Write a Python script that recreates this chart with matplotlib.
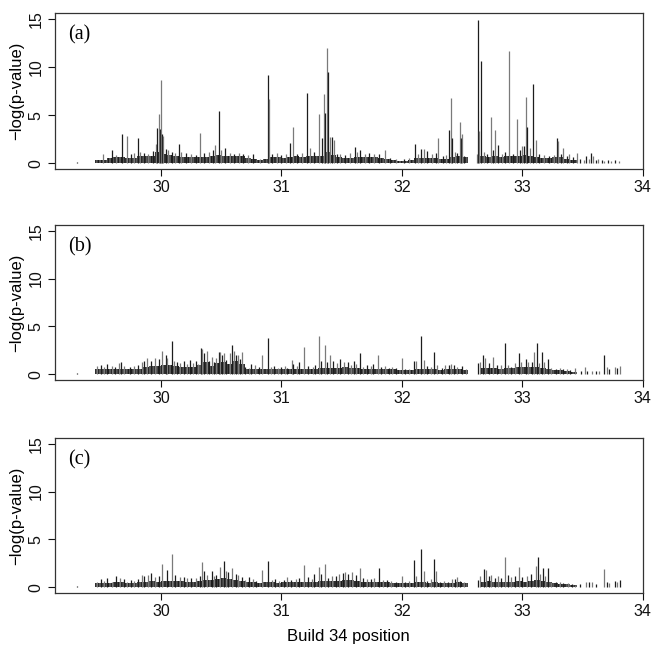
import matplotlib
matplotlib.use("Agg")
import matplotlib.pyplot as plt
import numpy as np

# positions in Mb (build 34), values are -log(p)
floor_edges = np.round(np.arange(29.45, 33.81, 0.05), 2)

floor_a = [0.3, 0.35, 0.5, 0.6, 0.6, 0.55, 0.55, 0.7, 0.8, 0.75,
           1.2, 1.0, 0.85, 0.75, 0.65, 0.6, 0.6, 0.6, 0.65, 0.8,
           0.9, 0.8, 0.75, 0.7, 0.7, 0.55, 0.45, 0.3, 0.4, 0.6,
           0.6, 0.55, 0.65, 0.7, 0.6, 0.7, 0.7, 0.8, 1.2, 0.9,
           0.6, 0.55, 0.55, 0.6, 0.65, 0.6, 0.65, 0.55, 0.4, 0.3,
           0.25, 0.2, 0.3, 0.5, 0.55, 0.55, 0.5, 0.45, 0.4, 0.65,
           0.7, 0.6, 0.0, 0.0, 0.7, 0.65, 0.7, 0.65, 0.7, 0.7,
           0.75, 0.9, 0.75, 0.6, 0.55, 0.5, 0.6, 0.6, 0.45, 0.3,
           0.0, 0.0, 0.0, 0.0, 0.0, 0.0, 0.0, 0.0]

floor_b = [0.5, 0.55, 0.55, 0.5, 0.6, 0.5, 0.5, 0.6, 0.75, 0.85,
           0.9, 1.0, 0.95, 0.85, 0.8, 0.8, 0.8, 1.0, 1.3, 0.9,
           1.2, 1.3, 1.1, 1.4, 1.1, 0.5, 0.5, 0.5, 0.55, 0.5,
           0.5, 0.5, 0.55, 0.6, 0.6, 0.5, 0.55, 0.7, 0.7, 0.65,
           0.7, 0.75, 0.7, 0.7, 0.6, 0.6, 0.6, 0.55, 0.5, 0.5,
           0.45, 0.45, 0.4, 0.55, 0.6, 0.5, 0.6, 0.45, 0.5, 0.55,
           0.55, 0.45, 0.0, 0.0, 0.7, 0.7, 0.65, 0.6, 0.65, 0.7,
           0.75, 0.8, 0.75, 0.8, 0.7, 0.55, 0.45, 0.4, 0.35, 0.2,
           0.0, 0.0, 0.0, 0.0, 0.0, 0.0, 0.0, 0.0]

floor_c = [0.4, 0.45, 0.45, 0.55, 0.55, 0.45, 0.45, 0.5, 0.6, 0.65,
           0.6, 0.7, 0.7, 0.7, 0.65, 0.6, 0.6, 0.7, 0.8, 0.75,
           0.85, 1.0, 0.9, 0.8, 0.7, 0.5, 0.5, 0.45, 0.5, 0.5,
           0.45, 0.5, 0.5, 0.55, 0.55, 0.6, 0.6, 0.65, 0.7, 0.65,
           0.7, 0.75, 0.75, 0.7, 0.6, 0.55, 0.55, 0.5, 0.5, 0.45,
           0.4, 0.4, 0.4, 0.5, 0.55, 0.45, 0.5, 0.4, 0.4, 0.45,
           0.5, 0.4, 0.0, 0.0, 0.6, 0.65, 0.6, 0.55, 0.6, 0.6,
           0.65, 0.6, 0.65, 0.75, 0.7, 0.5, 0.4, 0.35, 0.3, 0.2,
           0.0, 0.0, 0.0, 0.0, 0.0, 0.0, 0.0, 0.0]

snps_a = [(29.30, 0.15), (29.52, 1.0), (29.59, 1.4), (29.63, 0.9), (29.68, 3.0),
          (29.72, 2.8), (29.75, 1.0), (29.78, 1.1), (29.81, 2.6), (29.83, 1.2),
          (29.86, 1.1), (29.89, 1.0), (29.93, 1.3), (29.96, 2.0), (29.97, 3.7),
          (29.98, 5.1), (29.99, 3.6), (30.00, 8.6), (30.01, 3.0), (30.02, 2.8),
          (30.04, 1.5), (30.06, 1.4), (30.09, 1.2), (30.12, 1.1), (30.15, 2.0),
          (30.17, 1.2), (30.21, 1.1), (30.25, 1.0), (30.29, 0.9), (30.32, 3.1),
          (30.36, 1.1), (30.40, 1.2), (30.43, 1.4), (30.45, 1.85), (30.48, 5.4),
          (30.50, 1.4), (30.53, 1.6), (30.57, 1.1), (30.61, 1.0), (30.65, 1.1),
          (30.68, 1.0), (30.72, 0.9), (30.76, 1.0), (30.82, 0.4), (30.89, 9.2),
          (30.895, 6.65), (30.92, 1.0), (30.96, 1.1), (31.00, 0.9), (31.04, 1.0),
          (31.07, 2.1), (31.10, 3.75), (31.13, 1.0), (31.17, 1.1), (31.21, 7.3),
          (31.24, 1.6), (31.27, 1.2), (31.31, 5.1), (31.34, 2.6), (31.35, 7.2),
          (31.36, 5.2), (31.38, 12.0), (31.385, 9.45), (31.40, 2.7), (31.42, 2.7),
          (31.44, 2.4), (31.46, 1.0), (31.49, 1.0), (31.53, 0.9), (31.57, 1.1),
          (31.61, 1.7), (31.63, 1.2), (31.65, 1.4), (31.69, 1.0), (31.73, 1.1),
          (31.77, 1.0), (31.81, 1.0), (31.86, 1.35), (31.90, 0.5), (31.95, 0.4),
          (32.02, 0.4), (32.06, 0.5), (32.11, 2.0), (32.13, 1.0), (32.16, 1.5),
          (32.18, 1.5), (32.21, 1.3), (32.25, 1.0), (32.28, 1.1), (32.30, 2.65),
          (32.34, 0.7), (32.37, 0.9), (32.39, 3.5), (32.41, 6.8), (32.42, 2.6),
          (32.44, 1.2), (32.46, 1.1), (32.48, 4.3), (32.49, 2.6), (32.50, 3.0),
          (32.52, 0.8), (32.62, 1.0), (32.63, 14.9), (32.64, 3.3), (32.66, 10.65),
          (32.68, 1.2), (32.71, 1.0), (32.74, 4.85), (32.76, 1.4), (32.77, 3.5),
          (32.80, 1.9), (32.83, 1.0), (32.86, 1.2), (32.89, 11.7), (32.92, 1.0),
          (32.96, 4.6), (32.98, 1.4), (33.00, 1.8), (33.01, 1.8), (33.03, 6.85),
          (33.035, 3.75), (33.06, 1.6), (33.09, 8.2), (33.11, 2.4), (33.14, 1.0),
          (33.18, 0.9), (33.22, 0.8), (33.26, 0.9), (33.29, 2.6), (33.30, 2.3),
          (33.32, 1.0), (33.34, 1.55), (33.37, 0.8), (33.39, 1.0), (33.42, 0.6),
          (33.45, 1.1), (33.48, 0.4), (33.51, 0.3), (33.53, 0.7), (33.55, 0.4),
          (33.57, 1.1), (33.59, 0.7), (33.61, 0.3), (33.63, 0.4), (33.66, 0.3),
          (33.68, 0.25), (33.71, 0.3), (33.74, 0.25), (33.77, 0.3), (33.80, 0.25)]

snps_b = [(29.30, 0.15), (29.47, 0.9), (29.50, 1.0), (29.53, 0.8), (29.55, 1.05),
          (29.59, 0.9), (29.62, 0.8), (29.65, 1.2), (29.67, 1.25), (29.69, 0.9),
          (29.74, 0.8), (29.78, 0.9), (29.81, 1.0), (29.84, 1.3), (29.86, 1.35),
          (29.88, 1.75), (29.92, 1.4), (29.95, 1.7), (29.98, 1.6), (30.01, 2.45),
          (30.04, 2.0), (30.05, 1.75), (30.09, 3.5), (30.11, 1.4), (30.13, 1.3),
          (30.16, 1.2), (30.19, 1.4), (30.22, 1.1), (30.24, 1.5), (30.27, 1.2),
          (30.29, 1.4), (30.31, 1.1), (30.33, 2.7), (30.34, 2.65), (30.36, 2.2),
          (30.38, 2.45), (30.40, 1.4), (30.42, 1.85), (30.44, 1.3), (30.46, 1.75),
          (30.48, 2.3), (30.49, 2.3), (30.51, 2.0), (30.52, 2.2), (30.54, 1.5),
          (30.57, 2.2), (30.59, 3.1), (30.61, 2.4), (30.62, 2.0), (30.64, 2.0),
          (30.66, 1.6), (30.67, 2.3), (30.70, 0.8), (30.73, 0.7), (30.75, 1.05),
          (30.78, 1.0), (30.81, 0.8), (30.84, 2.0), (30.885, 3.75), (30.91, 0.8),
          (30.94, 0.9), (30.97, 0.7), (31.00, 0.8), (31.03, 0.9), (31.05, 0.7),
          (31.085, 1.5), (31.10, 1.05), (31.13, 0.9), (31.15, 1.3), (31.19, 2.8),
          (31.22, 0.9), (31.26, 0.8), (31.28, 1.0), (31.31, 4.0), (31.33, 1.4),
          (31.36, 3.05), (31.38, 1.3), (31.40, 2.0), (31.43, 1.4), (31.46, 1.2),
          (31.49, 1.6), (31.52, 1.3), (31.55, 1.3), (31.58, 1.0), (31.60, 1.4),
          (31.62, 1.05), (31.65, 2.2), (31.68, 0.8), (31.71, 1.0), (31.74, 0.9),
          (31.76, 1.05), (31.80, 2.05), (31.83, 0.8), (31.86, 0.9), (31.89, 0.7),
          (31.92, 0.8), (31.95, 0.7), (32.00, 1.75), (32.03, 0.6), (32.06, 0.5),
          (32.10, 1.4), (32.12, 1.4), (32.16, 4.0), (32.18, 1.5), (32.21, 0.9),
          (32.24, 0.8), (32.27, 2.3), (32.29, 1.0), (32.33, 0.7), (32.36, 1.0),
          (32.39, 1.0), (32.41, 1.1), (32.43, 1.0), (32.46, 0.8), (32.50, 0.9),
          (32.53, 0.6), (32.63, 1.2), (32.65, 1.3), (32.67, 2.0), (32.69, 1.7),
          (32.72, 1.2), (32.76, 1.8), (32.79, 1.0), (32.82, 1.0), (32.86, 3.25),
          (32.88, 1.0), (32.91, 0.8), (32.94, 1.2), (32.97, 2.2), (32.99, 1.3),
          (33.03, 1.6), (33.05, 1.3), (33.08, 1.3), (33.10, 2.3), (33.12, 3.25),
          (33.14, 1.2), (33.16, 2.3), (33.18, 1.3), (33.21, 1.6), (33.24, 0.7),
          (33.28, 0.6), (33.31, 0.7), (33.34, 0.6), (33.37, 0.5), (33.40, 0.4),
          (33.44, 0.65), (33.49, 0.3), (33.52, 0.8), (33.54, 0.3), (33.58, 0.3),
          (33.61, 0.3), (33.64, 0.3), (33.68, 2.0), (33.70, 0.8), (33.72, 0.5),
          (33.77, 0.8), (33.79, 0.7), (33.81, 0.9)]

snps_c = [(29.30, 0.15), (29.47, 0.6), (29.50, 0.9), (29.53, 0.7), (29.55, 0.95),
          (29.59, 0.6), (29.63, 1.15), (29.66, 1.0), (29.69, 0.9), (29.72, 0.6),
          (29.75, 0.8), (29.78, 0.7), (29.81, 0.85), (29.84, 1.3), (29.86, 1.2),
          (29.89, 1.3), (29.92, 1.5), (29.95, 1.1), (29.98, 1.2), (30.01, 2.4),
          (30.05, 1.8), (30.09, 3.5), (30.12, 1.3), (30.16, 1.1), (30.19, 1.1),
          (30.22, 1.0), (30.25, 1.0), (30.29, 0.95), (30.32, 1.2), (30.34, 2.6),
          (30.36, 1.75), (30.38, 1.3), (30.42, 1.65), (30.44, 1.2), (30.46, 1.3),
          (30.49, 2.15), (30.52, 2.7), (30.54, 1.7), (30.56, 1.6), (30.59, 2.0),
          (30.62, 1.4), (30.64, 1.3), (30.67, 1.1), (30.70, 0.8), (30.73, 1.1),
          (30.76, 0.9), (30.79, 0.7), (30.84, 1.8), (30.89, 2.75), (30.92, 0.8),
          (30.95, 0.9), (30.98, 0.7), (31.02, 0.8), (31.05, 1.1), (31.08, 0.8),
          (31.12, 0.9), (31.15, 1.0), (31.19, 2.35), (31.22, 1.1), (31.25, 0.9),
          (31.27, 1.4), (31.31, 2.1), (31.33, 1.4), (31.36, 2.4), (31.39, 1.0),
          (31.42, 1.2), (31.45, 1.2), (31.48, 1.35), (31.51, 1.5), (31.53, 1.55),
          (31.55, 1.4), (31.59, 1.55), (31.62, 1.3), (31.65, 2.05), (31.68, 1.0),
          (31.71, 0.9), (31.74, 0.85), (31.77, 1.0), (31.81, 2.0), (31.84, 0.8),
          (31.88, 0.8), (31.91, 0.7), (31.95, 0.6), (32.00, 1.2), (32.03, 0.6),
          (32.06, 0.7), (32.10, 2.9), (32.12, 1.2), (32.16, 4.0), (32.18, 1.65),
          (32.21, 0.7), (32.24, 0.9), (32.27, 3.0), (32.28, 1.7), (32.32, 0.6),
          (32.35, 0.7), (32.38, 0.6), (32.42, 0.9), (32.44, 0.85), (32.46, 1.1),
          (32.48, 0.7), (32.52, 0.6), (32.63, 0.8), (32.65, 1.2), (32.68, 1.9),
          (32.70, 1.8), (32.72, 1.2), (32.74, 1.3), (32.77, 1.0), (32.80, 1.2),
          (32.82, 1.0), (32.86, 3.2), (32.88, 1.3), (32.91, 1.1), (32.94, 1.2),
          (32.97, 2.15), (33.00, 1.1), (33.04, 1.2), (33.07, 1.4), (33.11, 2.25),
          (33.13, 3.2), (33.15, 1.4), (33.17, 2.0), (33.19, 1.2), (33.21, 2.05),
          (33.24, 0.6), (33.28, 0.5), (33.31, 0.5), (33.34, 0.4), (33.38, 0.4),
          (33.41, 0.3), (33.44, 0.2), (33.48, 0.3), (33.53, 0.6), (33.55, 0.5),
          (33.58, 0.5), (33.61, 0.3), (33.68, 1.95), (33.70, 0.5), (33.72, 0.4),
          (33.77, 0.7), (33.79, 0.6), (33.81, 0.8)]

panel_labels = ["(a)", "(b)", "(c)"]
x_ticks = [30, 31, 32, 33, 34]
y_ticks = [0, 5, 10, 15]

DARK = "#1c1c1c"
GREY = "#7a7a7a"

plt.rcParams["font.family"] = ["Liberation Sans", "DejaVu Sans"]
plt.rcParams["hatch.linewidth"] = 1.0

fig = plt.figure(figsize=(6.56, 6.5), dpi=100)
boxes = [[0.0838, 0.740, 0.896, 0.240],
         [0.0838, 0.4154, 0.896, 0.2385],
         [0.0838, 0.0877, 0.896, 0.2385]]

for box, floor, snps, lab in zip(boxes, [floor_a, floor_b, floor_c],
                                 [snps_a, snps_b, snps_c], panel_labels):
    ax = fig.add_axes(box)
    # dense background of SNPs: grey face with dark vertical strokes
    ax.bar(floor_edges, floor, width=0.05, align="edge", facecolor="#5a5a5a",
           edgecolor=DARK, hatch="|||||", linewidth=0)
    pos = [p for p, v in snps]
    val = [v for p, v in snps]
    cols = [DARK if i % 2 == 0 else GREY for i in range(len(pos))]
    ax.vlines(pos, 0, val, colors=cols, linewidth=0.9)

    ax.set_xlim(29.12, 34.0)
    ax.set_ylim(-0.6, 15.6)
    ax.set_xticks(x_ticks)
    ax.set_yticks(y_ticks)
    ax.set_yticklabels([str(t) for t in y_ticks], rotation=90, va="center")
    ax.tick_params(direction="out", length=5, width=0.8, labelsize=11.5,
                   pad=3, colors="#111111")
    for s in ax.spines.values():
        s.set_linewidth(0.9)
        s.set_color("#333333")
    ax.set_ylabel("\u2212log(p-value)", fontsize=12, labelpad=3)
    ax.text(0.022, 0.86, lab, transform=ax.transAxes, ha="left", va="center",
            fontsize=14.5, family="Liberation Serif")

ax.set_xlabel("Build 34 position", fontsize=12, labelpad=7)

fig.savefig("out.png", dpi=100)
